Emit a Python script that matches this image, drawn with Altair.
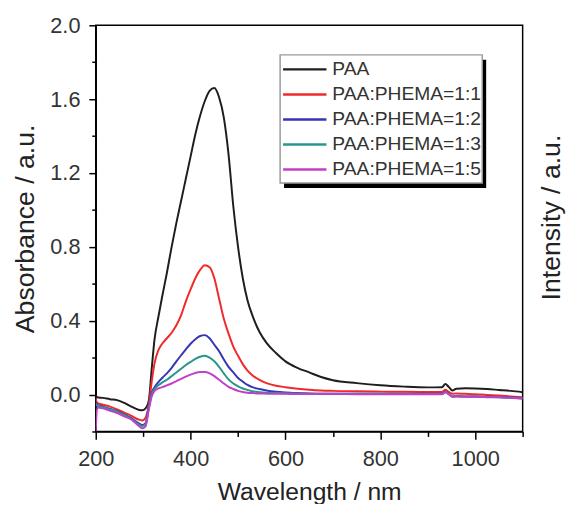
import altair as alt
import pandas as pd

FONT = "Liberation Sans"

WAVELENGTH = [200, 203, 215, 230, 245, 260, 275, 290, 298, 305,
              312, 318, 324, 332, 340, 350, 360, 370, 380, 390,
              400, 410, 420, 430, 440, 450, 460, 470, 480, 490,
              500, 510, 520, 530, 545, 560, 580, 600, 625, 650,
              675, 700, 750, 800, 850, 900, 930, 937, 944, 952,
              960, 980, 1000, 1025, 1050, 1075, 1100]

PAA = [-0.005, -0.015, -0.018, -0.025, -0.030, -0.045, -0.065, -0.082, -0.085, -0.075,
       -0.030, 0.140, 0.300, 0.420, 0.530, 0.660, 0.800, 0.930, 1.050, 1.170,
       1.290, 1.410, 1.510, 1.590, 1.645, 1.660, 1.610, 1.500, 1.300, 1.020,
       0.800, 0.630, 0.510, 0.430, 0.340, 0.280, 0.225, 0.180, 0.145, 0.120,
       0.095, 0.078, 0.062, 0.050, 0.043, 0.039, 0.040, 0.057, 0.042, 0.022,
       0.032, 0.034, 0.033, 0.030, 0.025, 0.020, 0.013]

R11 = [-0.020, -0.045, -0.055, -0.065, -0.080, -0.098, -0.115, -0.135, -0.140, -0.125,
       -0.050, 0.070, 0.170, 0.240, 0.275, 0.305, 0.335, 0.375, 0.430, 0.505,
       0.570, 0.630, 0.675, 0.700, 0.690, 0.630, 0.520, 0.410, 0.330, 0.260,
       0.210, 0.165, 0.130, 0.105, 0.080, 0.062, 0.048, 0.040, 0.032, 0.026,
       0.022, 0.020, 0.018, 0.016, 0.015, 0.014, 0.014, 0.026, 0.015, 0.004,
       0.006, 0.004, 0.002, -0.002, -0.005, -0.010, -0.015]

R12 = [-0.040, -0.055, -0.065, -0.078, -0.090, -0.108, -0.128, -0.155, -0.165, -0.155,
       -0.060, 0.010, 0.040, 0.068, 0.090, 0.115, 0.145, 0.180, 0.213, 0.245,
       0.275, 0.300, 0.317, 0.322, 0.305, 0.270, 0.235, 0.190, 0.150, 0.120,
       0.090, 0.070, 0.052, 0.040, 0.030, 0.022, 0.015, 0.011, 0.008, 0.006,
       0.005, 0.005, 0.005, 0.004, 0.004, 0.004, 0.004, 0.015, 0.004, -0.010,
       -0.008, -0.010, -0.010, -0.012, -0.013, -0.016, -0.020]

R13 = [-0.050, -0.060, -0.068, -0.080, -0.092, -0.110, -0.132, -0.160, -0.170, -0.160,
       -0.070, 0.000, 0.030, 0.050, 0.065, 0.080, 0.100, 0.120, 0.140, 0.160,
       0.177, 0.193, 0.205, 0.210, 0.200, 0.180, 0.150, 0.115, 0.082, 0.060,
       0.045, 0.033, 0.025, 0.018, 0.013, 0.010, 0.008, 0.007, 0.006, 0.005,
       0.005, 0.004, 0.004, 0.004, 0.003, 0.003, 0.003, 0.014, 0.003, -0.011,
       -0.009, -0.011, -0.011, -0.013, -0.014, -0.017, -0.021]

R15 = [-0.200, -0.070, -0.075, -0.088, -0.100, -0.118, -0.135, -0.168, -0.182, -0.172,
       -0.080, -0.010, 0.020, 0.033, 0.040, 0.050, 0.060, 0.073, 0.085, 0.097,
       0.108, 0.117, 0.122, 0.122, 0.115, 0.100, 0.080, 0.060, 0.042, 0.030,
       0.020, 0.014, 0.010, 0.008, 0.006, 0.005, 0.004, 0.004, 0.003, 0.003,
       0.003, 0.003, 0.002, 0.002, 0.002, 0.002, 0.002, 0.012, 0.002, -0.012,
       -0.010, -0.012, -0.012, -0.014, -0.015, -0.018, -0.022]

SERIES = ["PAA", "PAA:PHEMA=1:1", "PAA:PHEMA=1:2", "PAA:PHEMA=1:3", "PAA:PHEMA=1:5"]
COLORS = ["#1e1e1e", "#f2292b", "#3535b5", "#27978b", "#c23fc8"]
VALUES = [PAA, R11, R12, R13, R15]

X_TICKS = [200, 300, 400, 500, 600, 700, 800, 900, 1000, 1100]
Y_TICKS = [-0.2, 0.0, 0.2, 0.4, 0.6, 0.8, 1.0, 1.2, 1.4, 1.6, 1.8, 2.0]

rows = []
for k, (name, vals) in enumerate(zip(SERIES, VALUES)):
    for w, v in zip(WAVELENGTH, vals):
        rows.append({"wl": w, "absorb": v, "series": name, "k": k})
df = pd.DataFrame(rows)
legend_df = pd.DataFrame({"series": SERIES, "k": list(range(len(SERIES)))})

W, H = 433, 412
one = pd.DataFrame({"a": [0]})
color_scale = alt.Scale(domain=SERIES, range=COLORS)

lines = alt.Chart(df).mark_line(strokeWidth=2, clip=True, interpolate="monotone").encode(
    x=alt.X("wl:Q",
            scale=alt.Scale(domain=[200, 1100], nice=False, zero=False),
            axis=alt.Axis(title="Wavelength / nm", values=X_TICKS, labelFlush=False,
                          labelExpr="datum.value % 200 === 0 ? datum.label : ''",
                          tickSize={"condition": {"test": "datum.value % 200 === 0", "value": 8}, "value": 5},
                          labelPadding=9, titlePadding=11, format="d")),
    y=alt.Y("absorb:Q",
            scale=alt.Scale(domain=[-0.2, 2.0], nice=False, zero=False),
            axis=alt.Axis(title="Absorbance / a.u.", values=Y_TICKS, labelFlush=False,
                          labelExpr="round(datum.value*10) % 4 === 0 ? format(datum.value, '.1f') : ''",
                          tickSize={"condition": {"test": "round(datum.value*10) % 4 === 0", "value": 7}, "value": 4},
                          labelPadding=9, titlePadding=11)),
    color=alt.Color("series:N", scale=color_scale, legend=None),
    order=alt.Order("k:Q"),
    detail="series:N",
)

# legend rows placed through their own linear scale on the row index
leg_y = alt.Y("k:Q", scale=alt.Scale(domain=[0, 4], range=[44.7, 146.3], nice=False, zero=False), axis=None)
shadow = alt.Chart(one).mark_rect(color="black").encode(
    x=alt.value(191), x2=alt.value(396), y=alt.value(35), y2=alt.value(165)
)
box = alt.Chart(one).mark_rect(fill="white", stroke="#9a9a9a", strokeWidth=1.5).encode(
    x=alt.value(187), x2=alt.value(392), y=alt.value(30), y2=alt.value(160)
)
leg_lines = alt.Chart(legend_df).mark_rule(strokeWidth=2.5).encode(
    x=alt.value(190), x2=alt.value(234), y=leg_y,
    color=alt.Color("series:N", scale=color_scale, legend=None),
)
leg_text = alt.Chart(legend_df).mark_text(
    align="left", baseline="middle", font=FONT, fontSize=19.5, color="#333333"
).encode(x=alt.value(240), y=leg_y, text="series:N")

right_title = alt.Chart(one).mark_text(
    angle=270, fontSize=27, font=FONT, color="#222222", align="center", baseline="alphabetic"
).encode(x=alt.value(471), y=alt.value(195), text=alt.value("Intensity / a.u."))

legend_layer = alt.layer(shadow, box, leg_lines, leg_text)

chart = alt.layer(lines, legend_layer, right_title).resolve_scale(y="independent").properties(
    width=W, height=H,
    autosize=alt.AutoSizeParams(type="none"),
    padding={"left": 89, "top": 14, "right": 46, "bottom": 70},
).configure_view(stroke="black", strokeWidth=1.5).configure_axis(
    grid=False, domainColor="black", domainWidth=1.5, tickColor="black", tickWidth=1.5,
    labelFont=FONT, labelFontSize=22, labelColor="#333333",
    titleFont=FONT, titleFontSize=25, titleColor="#222222", titleFontWeight="normal"
).configure_axisY(titleFontSize=27)

chart.save("out.html", embed_options={"renderer": "svg", "actions": False})
